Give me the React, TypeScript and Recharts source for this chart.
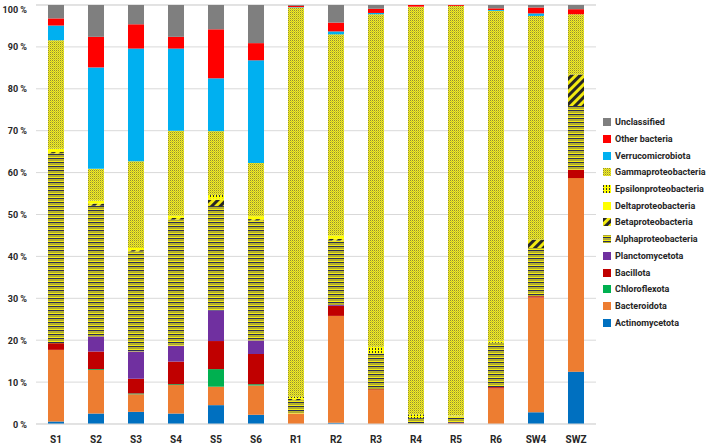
import React from 'react';
import { BarChart, Bar, XAxis, YAxis, CartesianGrid } from 'recharts';

const samples = ['S1', 'S2', 'S3', 'S4', 'S5', 'S6', 'R1', 'R2', 'R3', 'R4', 'R5', 'R6', 'SW4', 'SWZ'];

// relative abundance (%) per sample, stacked bottom to top
const actinomycetota = [0.6, 2.5, 2.9, 2.5, 4.5, 2.2, 0, 0.3, 0, 0, 0, 0, 2.8, 12.5];
const bacteroidota = [17.1, 10.4, 4.2, 6.8, 4.4, 7.0, 2.5, 25.5, 8.1, 0, 0.2, 8.5, 27.4, 46.2];
const chloroflexota = [0, 0.2, 0.2, 0.2, 4.2, 0.3, 0, 0, 0, 0, 0, 0, 0, 0];
const bacillota = [1.6, 4.2, 3.5, 5.4, 6.7, 7.2, 0, 2.4, 0.2, 0, 0.1, 0.3, 0.3, 2.0];
const planctomycetota = [0, 3.6, 6.5, 3.8, 7.3, 3.2, 0, 0.2, 0, 0, 0, 0, 0, 0];
const alphaproteobacteria = [45.3, 31.2, 23.9, 30.1, 24.9, 28.7, 3.2, 15.4, 8.6, 1.4, 1.5, 10.6, 11.5, 15.2];
const betaproteobacteria = [0.3, 0.5, 0.3, 0.4, 1.5, 0.3, 0.3, 0.4, 0, 0, 0, 0, 2.0, 7.5];
const deltaproteobacteria = [0.5, 0.7, 0.5, 0.5, 0.4, 0.7, 0, 0.8, 0, 0, 0, 0, 0, 0];
const epsilonproteobacteria = [0.3, 0, 0, 0, 0.8, 0, 0.5, 0, 1.6, 0.9, 0.2, 0.5, 0, 0];
const gammaproteobacteria = [25.9, 7.6, 20.7, 20.3, 15.2, 12.7, 92.9, 48.0, 79.3, 97.3, 97.8, 78.7, 53.4, 14.4];
const verrucomicrobiota = [3.5, 24.2, 26.9, 19.6, 12.6, 24.5, 0.1, 0.7, 0.3, 0, 0, 0.2, 0.6, 0];
const otherBacteria = [1.7, 7.3, 5.8, 2.8, 11.7, 4.1, 0.3, 2.1, 1.0, 0.4, 0.2, 0.4, 1.4, 1.2];
const unclassified = [3.2, 7.6, 4.6, 7.6, 5.8, 9.1, 0.2, 4.2, 0.9, 0, 0, 0.8, 0.6, 1.0];

const yTicks = [0, 10, 20, 30, 40, 50, 60, 70, 80, 90, 100];

const series = [
  { key: 'Actinomycetota', values: actinomycetota, fill: '#0070c0' },
  { key: 'Bacteroidota', values: bacteroidota, fill: '#ed7d31' },
  { key: 'Chloroflexota', values: chloroflexota, fill: '#00b050' },
  { key: 'Bacillota', values: bacillota, fill: '#c00000' },
  { key: 'Planctomycetota', values: planctomycetota, fill: '#7030a0' },
  { key: 'Alphaproteobacteria', values: alphaproteobacteria, fill: 'url(#pat-alpha)' },
  { key: 'Betaproteobacteria', values: betaproteobacteria, fill: 'url(#pat-beta)' },
  { key: 'Deltaproteobacteria', values: deltaproteobacteria, fill: '#ffff00' },
  { key: 'Epsilonproteobacteria', values: epsilonproteobacteria, fill: 'url(#pat-eps)' },
  { key: 'Gammaproteobacteria', values: gammaproteobacteria, fill: 'url(#pat-gamma)' },
  { key: 'Verrucomicrobiota', values: verrucomicrobiota, fill: '#00b0f0' },
  { key: 'Other bacteria', values: otherBacteria, fill: '#ff0000' },
  { key: 'Unclassified', values: unclassified, fill: '#7f7f7f' },
];

const data = samples.map((name, i) => {
  const row: Record<string, string | number> = { name };
  series.forEach((s) => {
    row[s.key] = s.values[i];
  });
  return row;
});

const font = 'Roboto, "DejaVu Sans", sans-serif';
const labelColor = '#262626';

const Patterns = () => (
  <svg width={0} height={0} style={{ position: 'absolute' }}>
    <defs>
      <pattern id="pat-gamma" width={2} height={2} patternUnits="userSpaceOnUse">
        <rect width={2} height={2} fill="#f7f21a" />
        <rect width={1} height={1} fill="#8e8b3c" />
        <rect x={1} y={1} width={1} height={1} fill="#c4c034" />
      </pattern>
      <pattern id="pat-alpha" width={4} height={4} patternUnits="userSpaceOnUse">
        <rect width={4} height={4} fill="#f5ee12" />
        <rect y={2} width={4} height={1.3} fill="#2b2f55" />
        <rect y={0} width={4} height={0.8} fill="#9a9640" />
      </pattern>
      <pattern id="pat-beta" width={6} height={6} patternUnits="userSpaceOnUse" patternTransform="rotate(45)">
        <rect width={6} height={6} fill="#f2ea10" />
        <rect width={3} height={6} fill="#262626" />
      </pattern>
      <pattern id="pat-eps" width={3} height={3} patternUnits="userSpaceOnUse">
        <rect width={3} height={3} fill="#ffff00" />
        <rect x={0} y={0} width={1} height={2} fill="#333" />
      </pattern>
    </defs>
  </svg>
);

// y tick drawn as plain text so "100 %" stays on one line
const PercentTick = ({ x, y, payload }: any) => (
  <text
    x={x}
    y={y}
    dy={3.5}
    textAnchor="end"
    fontFamily={font}
    fontWeight={700}
    fontSize={9}
    fill={labelColor}
  >
    {`${payload.value} %`}
  </text>
);

const ChartLegend = () => (
  <div
    style={{
      position: 'absolute',
      left: 603,
      top: 114,
      fontFamily: font,
      fontWeight: 700,
      fontSize: 9,
      color: labelColor,
      whiteSpace: 'nowrap',
    }}
  >
    {[...series].reverse().map((s) => (
      <div key={s.key} style={{ display: 'flex', alignItems: 'center', height: 16.7 }}>
        <svg width={8} height={8} style={{ marginRight: 4 }}>
          <rect width={8} height={8} fill={s.fill} />
        </svg>
        <span>{s.key}</span>
      </div>
    ))}
  </div>
);

export default function App() {
  return (
    <div style={{ position: 'absolute', left: 0, top: 0, width: 714, height: 445, background: '#fff' }}>
      <Patterns />
      <BarChart
        width={714}
        height={445}
        data={data}
        margin={{ top: 5, right: 118, left: 0, bottom: 0 }}
        barSize={16}
      >
        <CartesianGrid vertical={false} stroke="#d9d9d9" />
        <XAxis
          dataKey="name"
          height={21}
          axisLine={{ stroke: '#d9d9d9' }}
          tickLine={false}
          tickMargin={6}
          tick={{ fontFamily: font, fontWeight: 700, fontSize: 10, fill: labelColor }}
        />
        <YAxis
          width={36}
          domain={[0, 100]}
          ticks={yTicks}
          axisLine={false}
          tickLine={false}
          tickSize={0}
          tickMargin={9}
          tick={<PercentTick />}
        />
        {series.map((s) => (
          <Bar key={s.key} dataKey={s.key} stackId="a" fill={s.fill} isAnimationActive={false} />
        ))}
      </BarChart>
      <ChartLegend />
    </div>
  );
}
